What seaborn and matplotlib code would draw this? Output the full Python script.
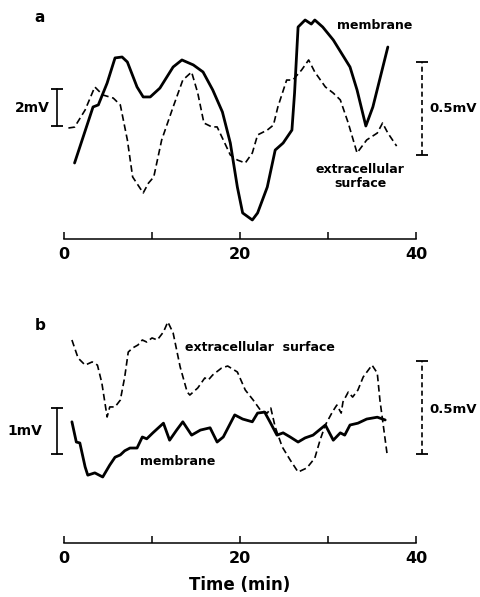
import numpy as np
import matplotlib
matplotlib.use("Agg")
import matplotlib.pyplot as plt
import seaborn as sns

# ---------------------------------------------------------------------------
# Data (time in min, potentials in mV)
# ---------------------------------------------------------------------------

# panel a: membrane potential (2 mV scale)
t_a_mem = [1.2, 3.3, 3.9, 4.9, 5.8, 6.6, 7.2, 8.3, 9.0, 9.8, 10.9, 12.4, 13.4,
           14.7, 15.8, 16.9, 18.0, 18.9, 19.7, 20.3, 21.4, 22.0, 23.1, 24.0,
           24.9, 25.9, 26.2, 26.6, 27.4, 28.1, 28.5, 29.4, 30.6, 32.5, 33.3,
           34.3, 35.1, 36.8]
v_a_mem = [-2.00, 1.03, 1.14, 2.32, 3.68, 3.73, 3.46, 2.11, 1.57, 1.57, 2.05,
           3.19, 3.57, 3.30, 2.92, 1.95, 0.76, -0.92, -3.30, -4.70, -5.08,
           -4.70, -3.30, -1.30, -0.92, -0.22, 1.78, 5.35, 5.73, 5.51, 5.73,
           5.35, 4.65, 3.19, 1.95, 0.00, 1.03, 4.27]

# panel a: extracellular surface potential (0.5 mV scale)
t_a_ext = [0.5, 1.2, 2.4, 3.5, 4.4, 5.6, 6.4, 7.2, 7.8, 9.0, 9.6, 10.2, 11.1,
           12.4, 13.5, 14.5, 15.2, 15.9, 16.8, 17.4, 18.1, 18.9, 19.7, 20.6,
           21.4, 22.0, 23.1, 23.8, 24.3, 25.3, 26.0, 27.0, 27.8, 28.5, 29.7,
           30.6, 31.4, 32.3, 33.3, 34.4, 35.6, 36.2, 36.8, 37.8]
v_a_ext = [0.145, 0.15, 0.242, 0.366, 0.323, 0.306, 0.269, 0.081, -0.118,
           -0.204, -0.151, -0.118, 0.081, 0.258, 0.403, 0.446, 0.333, 0.172,
           0.151, 0.151, 0.081, 0.0, -0.027, -0.043, 0.011, 0.108, 0.134,
           0.161, 0.258, 0.403, 0.403, 0.457, 0.511, 0.446, 0.366, 0.333,
           0.296, 0.172, 0.011, 0.081, 0.118, 0.172, 0.118, 0.048]

# panel b: membrane potential (1 mV scale)
t_b_mem = [0.9, 1.4, 1.8, 2.4, 2.7, 3.5, 4.4, 5.2, 5.8, 6.4, 6.9, 7.5, 8.3,
           8.9, 9.4, 10.1, 11.3, 12.0, 12.8, 13.5, 14.5, 15.5, 16.6, 17.4,
           18.1, 19.4, 20.3, 21.4, 22.0, 22.8, 23.4, 24.2, 24.9, 25.7, 26.6,
           27.4, 28.3, 29.7, 30.6, 31.4, 31.9, 32.5, 33.4, 34.4, 35.6, 36.5]
v_b_mem = [0.70, 0.26, 0.24, -0.28, -0.46, -0.41, -0.50, -0.24, -0.07, -0.02,
           0.07, 0.13, 0.13, 0.37, 0.33, 0.46, 0.67, 0.30, 0.52, 0.70, 0.41,
           0.52, 0.57, 0.26, 0.37, 0.85, 0.76, 0.70, 0.89, 0.91, 0.70, 0.41,
           0.46, 0.37, 0.26, 0.35, 0.41, 0.63, 0.30, 0.46, 0.41, 0.63, 0.67,
           0.76, 0.80, 0.74]

# panel b: extracellular surface potential (0.5 mV scale)
t_b_ext = [0.9, 1.6, 2.4, 3.2, 3.8, 4.3, 4.9, 5.2, 5.8, 6.4, 6.9, 7.3, 7.8,
           8.4, 8.9, 9.4, 10.0, 10.6, 11.3, 11.8, 12.4, 13.2, 14.0, 14.3,
           15.2, 16.0, 16.4, 16.9, 17.9, 18.6, 19.7, 20.6, 21.5, 22.3, 23.1,
           23.5, 24.0, 24.8, 25.7, 26.6, 27.6, 28.5, 29.1, 29.7, 30.5, 31.0,
           31.5, 31.7, 32.3, 32.8, 33.4, 34.0, 35.0, 35.6, 35.9, 36.7]
v_b_ext = [0.613, 0.516, 0.478, 0.495, 0.478, 0.382, 0.199, 0.253, 0.253,
           0.290, 0.414, 0.548, 0.570, 0.586, 0.613, 0.602, 0.624, 0.613,
           0.656, 0.710, 0.651, 0.468, 0.333, 0.317, 0.355, 0.409, 0.398,
           0.425, 0.462, 0.473, 0.441, 0.344, 0.290, 0.237, 0.220, 0.247,
           0.145, 0.038, -0.032, -0.097, -0.075, -0.022, 0.075, 0.156, 0.226,
           0.263, 0.220, 0.280, 0.333, 0.306, 0.344, 0.414, 0.478, 0.435,
           0.290, 0.005]

x_ticks = [0, 10, 20, 30, 40]
x_ticklabels = ["0", "", "20", "", "40"]

# ---------------------------------------------------------------------------
# Layout (pixels of the 480x597 figure)
# ---------------------------------------------------------------------------
W, H = 480, 597
X0, PX_PER_MIN = 64, 8.8          # pixel of t=0, pixels per minute
FONT = "DejaVu Sans"
DASH = (4, 2.2)


def px_to_t(px):
    return (px - X0) / PX_PER_MIN


def make_panel(fig, top, bottom, mem_zero_px, mem_px_per_mv,
               ext_zero_px, ext_px_per_mv):
    ax = fig.add_axes([0, 1 - bottom / H, 1, (bottom - top) / H])
    ax2 = ax.twinx()
    ax.set_xlim(px_to_t(0), px_to_t(W))
    ax.set_ylim((mem_zero_px - bottom) / mem_px_per_mv,
                (mem_zero_px - top) / mem_px_per_mv)
    ax2.set_ylim((ext_zero_px - bottom) / ext_px_per_mv,
                 (ext_zero_px - top) / ext_px_per_mv)
    for a in (ax, ax2):
        a.patch.set_visible(False)
        for s in a.spines.values():
            s.set_visible(False)
        a.set_yticks([])
    sp = ax.spines["bottom"]
    sp.set_visible(True)
    sp.set_bounds(0, 40)
    sp.set_linewidth(1.1)
    sp.set_color("black")
    ax.set_xticks(x_ticks)
    ax.set_xticklabels(x_ticklabels, fontsize=11.5, fontweight="bold")
    ax.tick_params(axis="x", bottom=True, direction="in", length=5,
                   width=1.1, pad=6, colors="black")
    ax2.tick_params(axis="both", length=0, labelright=False)
    return ax, ax2


def scale_bar(ax, x, lo, hi, dashed):
    line, = ax.plot([x, x], [lo, hi], color="black", lw=1.2)
    if dashed:
        line.set_dashes((3, 2))
    ax.plot([x, x], [lo, hi], color="black", ls="none", marker="_",
            ms=8, mew=1.3)


def label(ax, x, y, s, size=10, **kw):
    ax.text(x, y, s, fontsize=size, fontweight="bold", color="black", **kw)


sns.set_style("white")
plt.rcParams["font.family"] = [FONT]

fig = plt.figure(figsize=(W / 100, H / 100), dpi=100)

# ---- panel a ----
ax_a, ax_a2 = make_panel(fig, 0, 239, 126, 18.5, 155, 186)
sns.lineplot(x=t_a_mem, y=v_a_mem, ax=ax_a, color="black", lw=2.0,
             sort=False, estimator=None)
sns.lineplot(x=t_a_ext, y=v_a_ext, ax=ax_a2, color="black", lw=1.2,
             sort=False, estimator=None)
ax_a2.lines[-1].set_dashes(DASH)
scale_bar(ax_a, px_to_t(57), 0, 2, False)
scale_bar(ax_a2, px_to_t(422), 0, 0.5, True)
label(ax_a, px_to_t(50), 1.0, "2mV", 10, ha="right", va="center")
label(ax_a2, px_to_t(429), 0.25, "0.5mV", 9.5, ha="left", va="center")
label(ax_a, px_to_t(40), 5.85, "a", 11, ha="center", va="center")
label(ax_a, px_to_t(337), 5.45, "membrane", 9, ha="left", va="center")
label(ax_a2, px_to_t(360), -0.115, "extracellular\nsurface", 9,
      ha="center", va="center", linespacing=1.15)

# ---- panel b ----
ax_b, ax_b2 = make_panel(fig, 300, 543, 454, 46, 454, 186)
sns.lineplot(x=t_b_mem, y=v_b_mem, ax=ax_b, color="black", lw=2.0,
             sort=False, estimator=None)
sns.lineplot(x=t_b_ext, y=v_b_ext, ax=ax_b2, color="black", lw=1.2,
             sort=False, estimator=None)
ax_b2.lines[-1].set_dashes(DASH)
scale_bar(ax_b, px_to_t(57), 0, 1, False)
scale_bar(ax_b2, px_to_t(422), 0, 0.5, True)
label(ax_b, px_to_t(42), 0.5, "1mV", 10, ha="right", va="center")
label(ax_b2, px_to_t(429), 0.24, "0.5mV", 9.5, ha="left", va="center")
label(ax_b, px_to_t(40), 2.8, "b", 11, ha="center", va="center")
label(ax_b2, px_to_t(185), 0.57, "extracellular  surface", 9,
      ha="left", va="center")
label(ax_b, px_to_t(140), -0.17, "membrane", 9, ha="left", va="center")

fig.text(240 / W, 1 - 585 / H, "Time (min)", ha="center", va="center",
         fontsize=12, fontweight="bold", color="black")

fig.savefig("out.png", dpi=100)
